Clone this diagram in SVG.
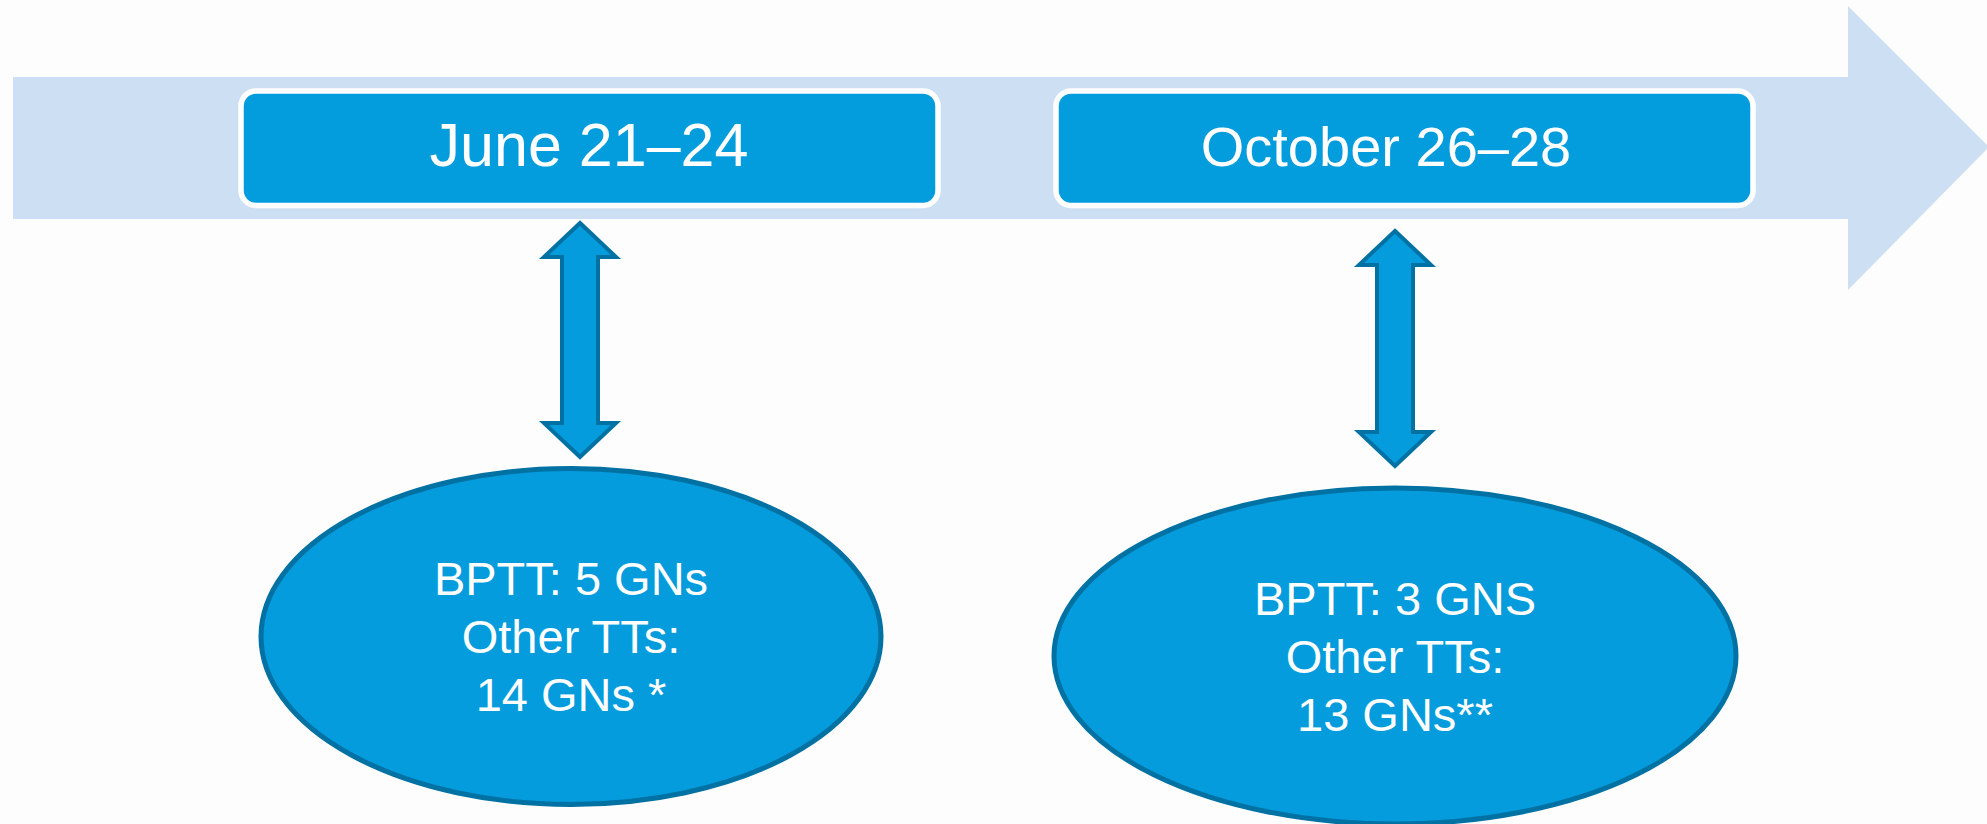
<svg xmlns="http://www.w3.org/2000/svg" width="1987" height="824" viewBox="0 0 1987 824">
<style>
.bg{fill:#fdfdfd}
.band{fill:#cddff3}
.box{fill:#039ddd;stroke:#ffffff;stroke-width:5.5}
.dbl{fill:#049cdc;stroke:#0071a3;stroke-width:4;stroke-linejoin:miter}
.ell{fill:#049cdc;stroke:#0071a3;stroke-width:5}
.t{font-family:"Liberation Sans",Arial,sans-serif;fill:#ffffff;text-anchor:middle}
.body{font-size:47px}
</style>
<rect class="bg" x="0" y="0" width="1987" height="824"/>
<g id="timeline">
<polygon class="band" points="13,77 1848,77 1848,6 1989,147 1848,290 1848,219 13,219"/>
</g>
<g id="node-june">
<rect class="box" x="241" y="91" width="697" height="114.5" rx="15"/>
<text class="t" x="589" y="166" font-size="61">June 21–24</text>
</g>
<g id="node-october">
<rect class="box" x="1056" y="91" width="697" height="114.5" rx="15"/>
<text class="t" x="1386" y="166" font-size="56">October 26–28</text>
</g>
<g id="connectors">
<path class="dbl" d="M580,223 L616,257 L598,257 L598,423 L616,423 L580,457 L544,423 L562,423 L562,257 L544,257 Z"/>
<path class="dbl" d="M1395,231 L1431,265 L1413,265 L1413,432 L1431,432 L1395,466 L1359,432 L1377,432 L1377,265 L1359,265 Z"/>
</g>
<g id="node-summer">
<ellipse class="ell" cx="571" cy="636.5" rx="310" ry="168"/>
<text class="t body" x="571" y="595">BPTT: 5 GNs</text>
<text class="t body" x="571" y="653">Other TTs:</text>
<text class="t body" x="571" y="711">14 GNs *</text>
</g>
<g id="node-autumn">
<ellipse class="ell" cx="1395" cy="656" rx="341" ry="168"/>
<text class="t body" x="1395" y="615">BPTT: 3 GNS</text>
<text class="t body" x="1395" y="673">Other TTs:</text>
<text class="t body" x="1395" y="731">13 GNs**</text>
</g>
</svg>
